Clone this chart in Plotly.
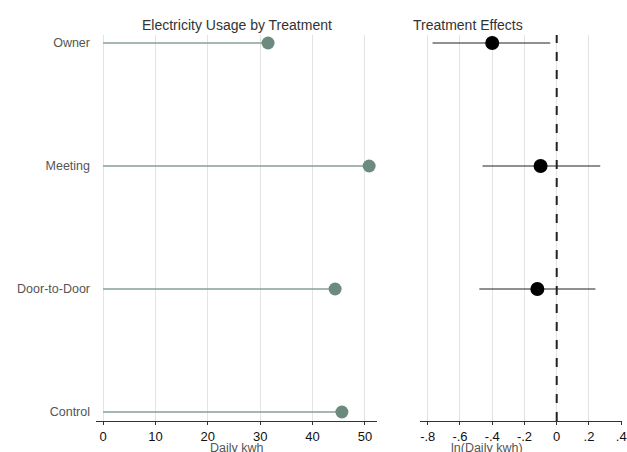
import plotly.graph_objects as go

categories = ["Control", "Door-to-Door", "Meeting", "Owner"]
usage = [45.6, 44.3, 50.8, 31.5]

effect_cats = ["Door-to-Door", "Meeting", "Owner"]
effect = [-0.12, -0.10, -0.40]
ci_low = [-0.48, -0.46, -0.77]
ci_high = [0.24, 0.27, -0.04]

x1_ticks = [0, 10, 20, 30, 40, 50]
x2_ticks = [-0.8, -0.6, -0.4, -0.2, 0, 0.2, 0.4]
x2_labels = ["-.8", "-.6", "-.4", "-.2", "0", ".2", ".4"]

ypos = {c: i for i, c in enumerate(categories)}
green = "#6c8b7e"
line_green = "#86a094"
font = "Liberation Sans, Arial, sans-serif"

fig = go.Figure()

# lollipop sticks
for c, v in zip(categories, usage):
    fig.add_trace(go.Scatter(x=[0, v], y=[ypos[c], ypos[c]], mode="lines",
                             line=dict(color=line_green, width=1.3),
                             xaxis="x", yaxis="y", showlegend=False, hoverinfo="skip"))
fig.add_trace(go.Scatter(x=usage, y=[ypos[c] for c in categories], mode="markers",
                         marker=dict(color=green, size=13),
                         xaxis="x", yaxis="y", showlegend=False))

# effects with CIs
for c, lo, hi in zip(effect_cats, ci_low, ci_high):
    fig.add_trace(go.Scatter(x=[lo, hi], y=[ypos[c], ypos[c]], mode="lines",
                             line=dict(color="#222222", width=1.2),
                             xaxis="x2", yaxis="y2", showlegend=False, hoverinfo="skip"))
fig.add_trace(go.Scatter(x=effect, y=[ypos[c] for c in effect_cats], mode="markers",
                         marker=dict(color="black", size=14),
                         xaxis="x2", yaxis="y2", showlegend=False))

yr = [-0.073, 3.065]
fig.update_layout(
    width=627, height=452,
    margin=dict(l=0, r=0, t=0, b=0, autoexpand=False),
    paper_bgcolor="white", plot_bgcolor="white",
    font=dict(family=font, color="#444444", size=12),
    xaxis=dict(domain=[96/627, 377/627], range=[-1.35, 52.3], automargin=False,
               tickvals=x1_ticks, ticks="outside", ticklen=3, tickcolor="#333",
               showline=True, linecolor="#333", linewidth=1,
               showgrid=True, gridcolor="#e3e3e3", gridwidth=1, zeroline=False,
               tickfont=dict(color="#111", size=13)),
    yaxis=dict(domain=[31/452, 417/452], range=yr, automargin=False,
               tickvals=[ypos[c] for c in categories], ticktext=categories,
               showgrid=False, zeroline=False, showline=False, ticks="",
               ticklabelstandoff=5,
               tickfont=dict(size=12.5, color="#555")),
    xaxis2=dict(domain=[420/627, 622/627], range=[-0.848, 0.405], automargin=False,
                tickvals=x2_ticks, ticktext=x2_labels, ticks="outside", ticklen=3, tickcolor="#333",
                showline=True, linecolor="#333", linewidth=1,
                showgrid=True, gridcolor="#e3e3e3", gridwidth=1, zeroline=False,
                tickfont=dict(color="#111", size=13)),
    yaxis2=dict(domain=[31/452, 417/452], range=yr, anchor="x2", automargin=False,
                showticklabels=False, showgrid=False, zeroline=False, showline=False, ticks=""),
    shapes=[dict(type="line", xref="x2", yref="paper", x0=0, x1=0,
                 y0=31/452, y1=417/452, line=dict(color="#222", width=2, dash="dash"))],
    annotations=[
        dict(text="Electricity Usage by Treatment", x=236.5/627, y=(452 - 25) / 452,
             xref="paper", yref="paper", showarrow=False, yanchor="middle",
             font=dict(size=14, color="#333")),
        dict(text="Treatment Effects", x=525/627, y=(452 - 25) / 452,
             xref="paper", yref="paper", showarrow=False, yanchor="middle",
             font=dict(size=14, color="#333")),
        dict(text="Daily kwh", x=236.5/627, y=(452 - 448) / 452, xref="paper", yref="paper",
             showarrow=False, yanchor="middle", font=dict(size=12.5, color="#555")),
        dict(text="ln(Daily kwh)", x=525/627, y=(452 - 448) / 452, xref="paper", yref="paper",
             showarrow=False, yanchor="middle", font=dict(size=12.5, color="#555")),
    ],
)

fig.write_html("out.html", config={"displayModeBar": False},
               post_script="document.body.style.margin='0';document.body.style.overflow='hidden';")
